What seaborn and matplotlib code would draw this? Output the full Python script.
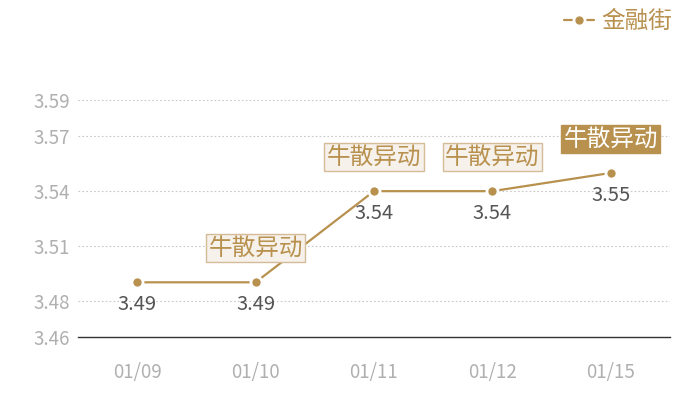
import seaborn as sns
import matplotlib.pyplot as plt
import pandas as pd

# chart data
dates = ['01/09', '01/10', '01/11', '01/12', '01/15']
prices = [3.49, 3.49, 3.54, 3.54, 3.55]
series_name = '金融街'
tag_text = '牛散异动'
tag_dates = ['01/10', '01/11', '01/12', '01/15']
y_ticks = [3.46, 3.48, 3.51, 3.54, 3.57, 3.59]

gold = '#B8914F'

sns.set_theme(style='white')
plt.rcParams['font.family'] = ['Noto Sans CJK SC', 'DejaVu Sans']

df = pd.DataFrame({'date': dates, 'price': prices})

fig = plt.figure(figsize=(7, 4), dpi=100)
ax = fig.add_axes([78 / 700, 63 / 400, 592 / 700, 237 / 400])

sns.lineplot(data=df, x='date', y='price', ax=ax, color=gold, linewidth=1.6,
             marker='o', markersize=8, markeredgecolor='white',
             markeredgewidth=2, label=series_name, sort=False)

ax.set_xlim(-0.5, len(dates) - 0.5)
ax.set_ylim(y_ticks[0], y_ticks[-1])
ax.set_yticks(y_ticks)
ax.set_yticklabels([f'{v:.2f}' for v in y_ticks])
ax.set_xlabel('')
ax.set_ylabel('')

# gridlines
for v in y_ticks[1:]:
    ax.axhline(v, color='#c8c8c8', linestyle=(0, (1.5, 2)), linewidth=0.8, zorder=0)

for s in ['top', 'right', 'left']:
    ax.spines[s].set_visible(False)
ax.spines['bottom'].set_color('#333333')
ax.spines['bottom'].set_linewidth(1)
ax.tick_params(axis='both', length=0, colors='#b0b0b0', labelsize=13.5)
ax.tick_params(axis='y', pad=6)
ax.tick_params(axis='x', pad=18)

# value labels under each point
for i, v in enumerate(prices):
    ax.annotate(f'{v:.2f}', (i, v), xytext=(0, -16), textcoords='offset points',
                ha='center', va='center', fontsize=14.5, color='#555555')

# tags above points
for d in tag_dates:
    i = dates.index(d)
    last = d == tag_dates[-1]
    ax.annotate(tag_text, (i, prices[i]), xytext=(0, 24.5), textcoords='offset points',
                ha='center', va='center', fontsize=17,
                color='white' if last else gold,
                bbox=dict(boxstyle='square,pad=0.1',
                          fc=gold if last else '#F6F1EA',
                          ec=gold if last else '#D4BC98', lw=1))

leg = ax.legend(loc='upper right', bbox_to_anchor=(1.02, 1.42), frameon=False,
                fontsize=17, handlelength=1.3, handletextpad=0.3, borderaxespad=0)
for t in leg.get_texts():
    t.set_color(gold)

fig.savefig('out.png', dpi=100)
